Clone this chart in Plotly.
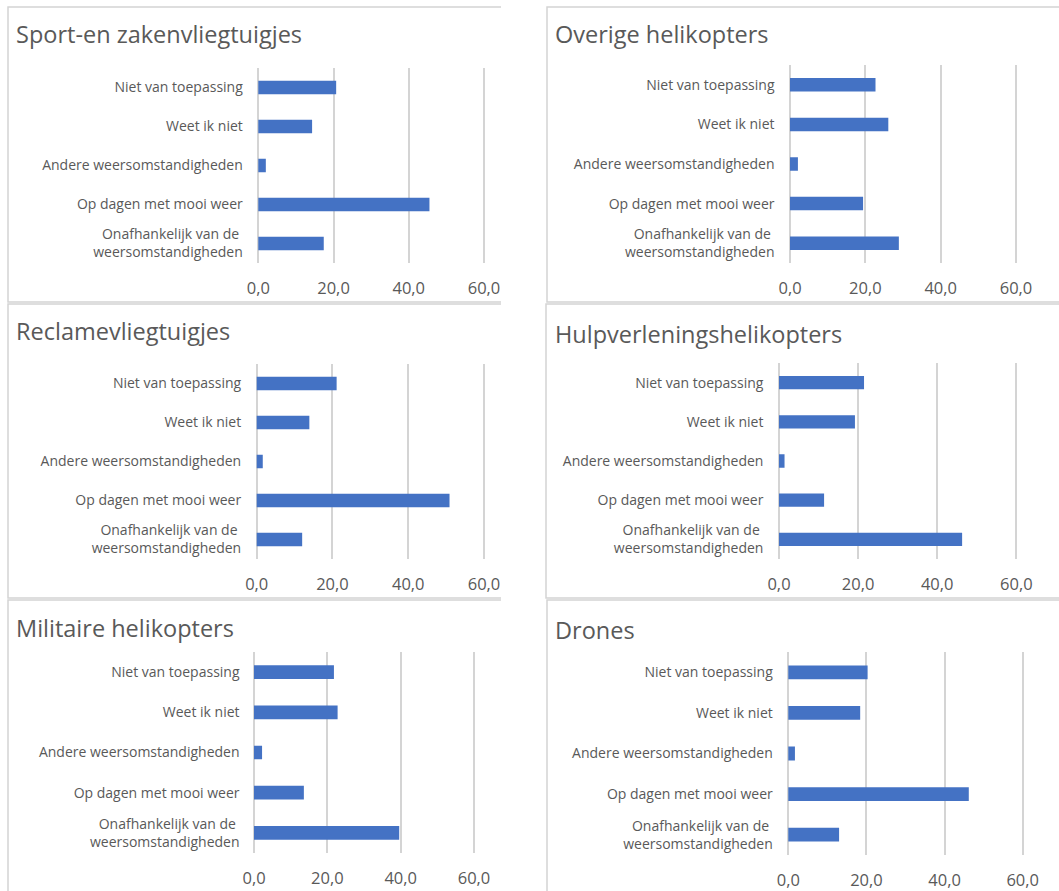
import plotly.graph_objects as go

W, H = 1059, 891

# ---------------- data ----------------
categories = [
    "Onafhankelijk van de\u00a0<br>weersomstandigheden",
    "Op dagen met mooi weer",
    "Andere weersomstandigheden",
    "Weet ik niet",
    "Niet van toepassing",
]
titles = [
    "Sport-en zakenvliegtuigjes",
    "Overige helikopters",
    "Reclamevliegtuigjes",
    "Hulpverleningshelikopters",
    "Militaire helikopters",
    "Drones",
]
sport = [17.4, 45.5, 2.0, 14.3, 20.7]
overige = [28.9, 19.4, 2.1, 26.1, 22.7]
reclame = [12.0, 50.9, 1.6, 13.9, 21.1]
hulp = [46.3, 11.4, 1.4, 19.2, 21.5]
militair = [39.6, 13.6, 2.2, 22.8, 21.8]
drones = [13.0, 46.2, 1.7, 18.4, 20.3]
series = [sport, overige, reclame, hulp, militair, drones]
tick_vals = [0, 20, 40, 60]
tick_text = ["0,0", "20,0", "40,0", "60,0"]

# ---------------- layout geometry (pixels) ----------------
plot_boxes = [  # x at 0, x at 60, ytop, ybottom
    (258.3, 484.0, 68, 263),
    (790.0, 1016.0, 65, 263),
    (256.7, 484.0, 364, 559),
    (779.0, 1016.3, 363, 559),
    (254.0, 474.0, 652, 853),
    (788.3, 1022.7, 652, 855),
]
title_pos = [(14, 34), (553, 34), (14, 331), (553, 334), (14, 628), (553, 630)]
frames = [  # left, top, right, bottom
    (8, 7, 504, 302),
    (547, 7, 1062, 302),
    (8, 304, 504, 598),
    (546, 304, 1062, 598),
    (8, 600, 504, 900),
    (547, 600, 1062, 900),
]
PAD = 0.4  # small range padding so the 0 and 60 grid lines are drawn

FONT = "Open Sans"
TXT = "#595959"
GRID = "#d4d4d4"
BAR = "#4472C4"


def px(x):
    return x / W


def py(y):
    return 1 - y / H


fig = go.Figure()
layout = dict(
    width=W, height=H,
    margin=dict(l=0, r=0, t=0, b=0, autoexpand=False),
    paper_bgcolor="white", plot_bgcolor="white",
    showlegend=False,
    font=dict(family=FONT, color=TXT),
)
shapes = []
annotations = []

for i, (vals, box) in enumerate(zip(series, plot_boxes)):
    n = i + 1
    xa = "x" if n == 1 else f"x{n}"
    ya = "y" if n == 1 else f"y{n}"
    fig.add_trace(go.Bar(
        x=vals, y=categories, orientation="h",
        marker=dict(color=BAR, line=dict(width=0)),
        width=0.34, xaxis=xa, yaxis=ya, hoverinfo="x+y",
    ))
    x0, x60, yt, yb = box
    ppu = (x60 - x0) / 60.0
    d0 = x0 - PAD * ppu
    d1 = x60 + PAD * ppu
    layout["xaxis" if n == 1 else f"xaxis{n}"] = dict(
        domain=[px(d0), px(d1)], anchor=ya, range=[-PAD, 60 + PAD],
        tickvals=tick_vals, ticktext=tick_text,
        showgrid=True, gridcolor=GRID, gridwidth=1.6,
        zeroline=False,
        showline=False, ticks="", ticklabelstandoff=13,
        tickfont=dict(family=FONT, size=16.5, color=TXT),
        automargin=False, fixedrange=True,
    )
    layout["yaxis" if n == 1 else f"yaxis{n}"] = dict(
        domain=[py(yb), py(yt)], anchor=xa, range=[-0.5, 4.5],
        type="category", categoryorder="array", categoryarray=categories,
        showgrid=False, zeroline=False, showline=False, ticks="",
        ticklabelstandoff=int(round(11 + PAD * ppu)),
        tickfont=dict(family=FONT, size=14, color=TXT),
        automargin=False, fixedrange=True,
    )
    tx, ty = title_pos[i]
    annotations.append(dict(
        text=titles[i], x=px(tx), y=py(ty), xref="paper", yref="paper",
        xanchor="left", yanchor="middle", showarrow=False,
        font=dict(family=FONT, size=23.5, color=TXT),
    ))
    l, t, r, b = frames[i]
    shapes.append(dict(
        type="rect", xref="paper", yref="paper",
        x0=px(l), x1=px(r), y0=py(b), y1=py(t),
        line=dict(color=GRID, width=1.5), fillcolor="rgba(0,0,0,0)",
        layer="below",
    ))

# white gutter between the two columns (the left charts are cropped at the right)
shapes.append(dict(
    type="rect", xref="paper", yref="paper",
    x0=px(501), x1=px(545), y0=0, y1=1,
    line=dict(width=0), fillcolor="white", layer="above",
))

layout["shapes"] = shapes
layout["annotations"] = annotations
fig.update_layout(**layout)
fig.write_html("out.html")
